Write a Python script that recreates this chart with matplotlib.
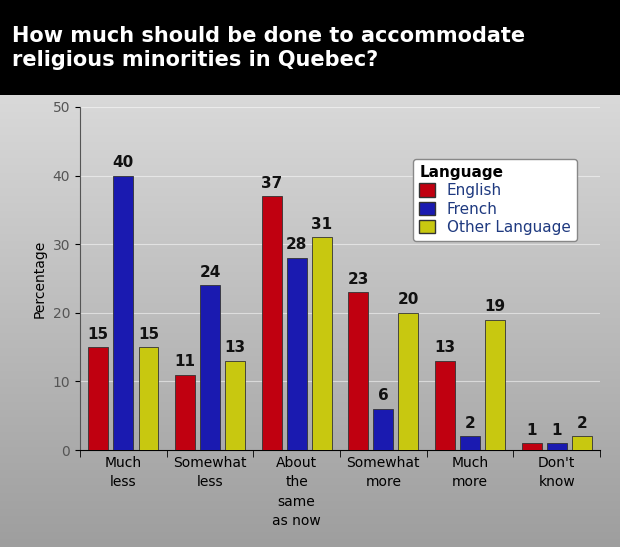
import numpy as np
import matplotlib
matplotlib.use("Agg")
import matplotlib.pyplot as plt
from matplotlib.patches import Patch

# ── Data ──────────────────────────────────────────────
categories = ["Much\nless", "Somewhat\nless", "About\nthe\nsame\nas now",
              "Somewhat\nmore", "Much\nmore", "Don't\nknow"]
english = [15, 11, 37, 23, 13, 1]
french = [40, 24, 28, 6, 2, 1]
other = [15, 13, 31, 20, 19, 2]
series_names = ["English", "French", "Other Language"]
colors = ["#C00010", "#1A1AB0", "#C8C810"]

fig = plt.figure(figsize=(6.2, 5.47), dpi=100)

# background gradient
bg = fig.add_axes([0, 0, 1, 1], zorder=0)
grad = np.linspace(0.90, 0.62, 256).reshape(-1, 1)
bg.imshow(np.dstack([grad] * 3), aspect="auto", extent=[0, 1, 0, 1])
bg.set_xlim(0, 1)
bg.set_ylim(0, 1)
bg.axis("off")

# black title band
band = fig.add_axes([0, 1 - 95 / 547, 1, 95 / 547], zorder=1)
band.set_facecolor("black")
band.set_xticks([])
band.set_yticks([])
for s in band.spines.values():
    s.set_visible(False)
band.text(0.02, 0.5, "How much should be done to accommodate\nreligious minorities in Quebec?",
          color="white", fontsize=15, fontweight="bold", va="center",
          linespacing=1.25, transform=band.transAxes)

# plot axes
ax = fig.add_axes([80 / 620, 1 - 450 / 547, 520 / 620, 343 / 547], zorder=2)
ax.patch.set_alpha(0)
x = np.arange(len(categories))
w = 0.23
for i, (vals, c) in enumerate(zip([english, french, other], colors)):
    bars = ax.bar(x + (i - 1) * 0.29, vals, w, color=c, edgecolor="#333333",
                  linewidth=0.6, zorder=3)
    for b, v in zip(bars, vals):
        ax.text(b.get_x() + b.get_width() / 2, v + 0.8, str(v), ha="center",
                va="bottom", fontsize=11, fontweight="bold", color="#111111")

ax.set_xlim(-0.5, len(categories) - 0.5)
ax.set_ylim(0, 50)
ax.set_yticks(range(0, 51, 10))
ax.set_xticks(x)
ax.set_xticklabels(categories, fontsize=10, linespacing=1.5, va="top")
ax.set_xticks(np.arange(len(categories) + 1) - 0.5, minor=True)
ax.tick_params(axis="x", which="major", length=0, pad=4)
ax.tick_params(axis="x", which="minor", length=5, color="black")
ax.tick_params(axis="y", labelsize=10, labelcolor="#555555")
ax.grid(axis="y", color="white", alpha=0.5, linewidth=0.8, zorder=0)
ax.set_ylabel("Percentage", fontsize=10)
for s in ["top", "right"]:
    ax.spines[s].set_visible(False)
ax.spines["left"].set_color("#555555")
ax.spines["bottom"].set_color("black")

handles = [Patch(facecolor=c, edgecolor="#333333", label=n)
           for n, c in zip(series_names, colors)]
leg = ax.legend(handles=handles, title="Language", loc="upper right",
                bbox_to_anchor=(0.97, 0.87), fontsize=11, title_fontsize=11,
                frameon=True, fancybox=True, handlelength=1, handleheight=1,
                labelspacing=0.2, alignment="left", framealpha=1)
leg.get_title().set_fontweight("bold")
for t in leg.get_texts():
    t.set_color("#1F3A80")
leg.get_frame().set_edgecolor("#888888")

fig.savefig("out.png", dpi=100)
